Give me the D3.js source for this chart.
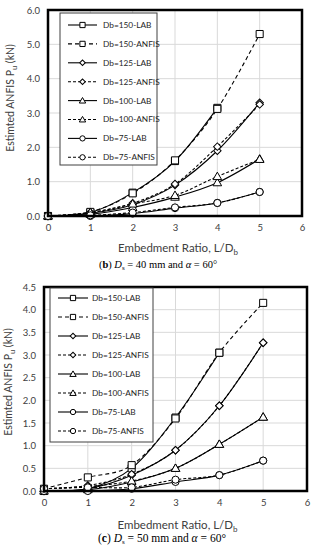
<!DOCTYPE html>
<html><head><meta charset="utf-8">
<script src="https://cdn.jsdelivr.net/npm/d3@7"></script>
<style>body{margin:0;background:#fff}svg{display:block}</style>
</head><body><svg id="c" width="317" height="550"></svg>
<script>
// ---- data ----
const xValues = [0, 1, 2, 3, 4, 5];
const seriesNames = ["Db=150-LAB","Db=150-ANFIS","Db=125-LAB","Db=125-ANFIS","Db=100-LAB","Db=100-ANFIS","Db=75-LAB","Db=75-ANFIS"];
// chart (b)
const b150LAB   = [0, 0.10, 0.68, 1.60, 3.15];
const b150ANFIS = [0, 0.12, 0.66, 1.62, 3.12, 5.30];
const b125LAB   = [0, 0.08, 0.33, 0.90, 1.90, 3.30];
const b125ANFIS = [0, 0.10, 0.37, 0.93, 2.02, 3.25];
const b100LAB   = [0, 0.05, 0.25, 0.55, 0.97, 1.66];
const b100ANFIS = [0, 0.10, 0.35, 0.60, 1.15, 1.65];
const b75LAB    = [0, 0.00, 0.07, 0.23, 0.38, 0.70];
const b75ANFIS  = [0, 0.02, 0.10, 0.25, 0.38, 0.70];
// chart (c)
const c150LAB   = [0, 0.05, 0.50, 1.62, 3.05];
const c150ANFIS = [0.05, 0.30, 0.57, 1.60, 3.05, 4.15];
const c125LAB   = [0, 0.05, 0.35, 0.90, 1.88, 3.27];
const c125ANFIS = [0.05, 0.12, 0.37, 0.90, 1.88, 3.27];
const c100LAB   = [0, 0.03, 0.20, 0.50, 1.03, 1.63];
const c100ANFIS = [0.05, 0.10, 0.22, 0.50, 1.03, 1.63];
const c75LAB    = [0, 0.00, 0.05, 0.20, 0.35, 0.67];
const c75ANFIS  = [0.05, 0.08, 0.08, 0.25, 0.35, 0.67];
const xTicks = [0,1,2,3,4,5,6];
const yTicksB = [0,1,2,3,4,5,6];
const yTicksC = [0,0.5,1,1.5,2,2.5,3,3.5,4,4.5];

const markerOf = ["square","square","diamond","diamond","triangle","triangle","circle","circle"];
const dashOf = [null,"4,3",null,"3,2",null,"3,2",null,"3,2"];

const svg = d3.select("#c");
const FONT = "Lato, 'Open Sans', sans-serif";
const textCol = "#404040";

function markerPath(kind, s){
  if(kind==="square") return d3.symbol(d3.symbolSquare, 50*s)();
  if(kind==="diamond") return d3.symbol(d3.symbolSquare, 28*s)();
  if(kind==="triangle") return d3.symbol(d3.symbolTriangle, 32*s)();
  return d3.symbol(d3.symbolCircle, 40*s)();
}
function drawMarker(g, kind, x, y, s=1){
  const p = g.append("path").attr("d", markerPath(kind, s))
    .attr("fill","#fff").attr("stroke","#000").attr("stroke-width",1);
  if(kind==="diamond") p.attr("transform",`translate(${x},${y}) rotate(45)`);
  else if(kind==="triangle") p.attr("transform",`translate(${x},${y+0.6})`);
  else p.attr("transform",`translate(${x},${y})`);
}

function drawChart(o){
  const g = svg.append("g");
  const x = d3.scaleLinear().domain([0,6]).range([o.x0,o.x1]);
  const y = d3.scaleLinear().domain([0,o.ymax]).range([o.y0,o.y1]);
  // grid
  g.append("g").selectAll("line.h").data(o.yTicks).join("line")
    .attr("x1",o.x0).attr("x2",o.x1).attr("y1",d=>y(d)).attr("y2",d=>y(d))
    .attr("stroke","#d9d9d9").attr("stroke-width",1);
  g.append("g").selectAll("line.v").data(xTicks).join("line")
    .attr("x1",d=>x(d)).attr("x2",d=>x(d)).attr("y1",o.y0).attr("y2",o.y1)
    .attr("stroke","#d9d9d9").attr("stroke-width",1);
  // axes (labels only)
  const ya = g.append("g").attr("transform",`translate(${o.x0},0)`)
    .call(d3.axisLeft(y).tickValues(o.yTicks).tickFormat(d3.format(".1f")).tickSize(0).tickPadding(8));
  ya.select(".domain").remove();
  ya.selectAll("text").attr("font-family",FONT).attr("font-size",9.5).attr("fill",textCol);
  const xa = g.append("g").attr("transform",`translate(0,${o.y0})`)
    .call(d3.axisBottom(x).tickValues(xTicks).tickFormat(d3.format("d")).tickSize(0).tickPadding(8));
  xa.select(".domain").remove();
  xa.selectAll("text").attr("font-family",FONT).attr("font-size",9.5).attr("fill",textCol);
  // series
  const line = d3.line().x((d,i)=>x(xValues[i])).y(d=>y(d)).curve(d3.curveCardinal.tension(0));
  o.series.forEach((s,k)=>{
    g.append("path").attr("d",line(s)).attr("fill","none").attr("stroke","#000")
      .attr("stroke-width",1.1).attr("stroke-dasharray",dashOf[k]);
  });
  o.series.forEach((s,k)=>{
    s.forEach((v,i)=>drawMarker(g, markerOf[k], x(xValues[i]), y(v)));
  });
  // frame
  g.append("rect").attr("x",o.x0).attr("y",o.y1).attr("width",o.x1-o.x0).attr("height",o.y0-o.y1)
    .attr("fill","none").attr("stroke","#000").attr("stroke-width",2.5);
  // legend
  const L = o.legend;
  g.append("rect").attr("x",L.x).attr("y",L.y).attr("width",L.w).attr("height",L.h)
    .attr("fill","#fff").attr("stroke","#404040").attr("stroke-width",1);
  seriesNames.forEach((n,k)=>{
    const yy = L.y + L.first + k*L.step;
    g.append("line").attr("x1",L.lx0).attr("x2",L.lx1).attr("y1",yy).attr("y2",yy)
      .attr("stroke","#000").attr("stroke-width",1.1).attr("stroke-dasharray",dashOf[k]);
    drawMarker(g, markerOf[k], (L.lx0+L.lx1)/2, yy, 0.55);
    g.append("text").attr("x",L.tx).attr("y",yy).attr("dy","0.35em")
      .attr("font-family",FONT).attr("font-size",8.3).attr("fill","#262626").text(n);
  });
  // axis titles
  const xt = g.append("text").attr("x",(o.x0+o.x1)/2+o.xtShift).attr("y",o.xtY)
    .attr("text-anchor","middle").attr("font-family",FONT).attr("font-size",11.5).attr("fill",textCol);
  xt.append("tspan").text("Embedment Ratio, L/D");
  xt.append("tspan").attr("font-size",8).attr("dy",3).text("b");
  const yt = g.append("text").attr("transform",`translate(${o.ytX},${o.ytY}) rotate(-90)`)
    .attr("text-anchor","middle").attr("font-family",FONT).attr("font-size",10.5).attr("fill",textCol);
  yt.append("tspan").text("Estimted ANFIS  P");
  yt.append("tspan").attr("font-size",7.5).attr("dy",3).text("u");
  yt.append("tspan").attr("dy",-3).text(" (kN)");
  // caption
  const cap = g.append("text").attr("x",o.capX).attr("y",o.capY).attr("text-anchor","middle")
    .attr("font-family","'Liberation Serif', serif").attr("font-size",o.capSize).attr("fill","#000");
  cap.append("tspan").text("(");
  cap.append("tspan").attr("font-weight","bold").text(o.letter);
  cap.append("tspan").text(") ");
  cap.append("tspan").attr("font-style","italic").text("D");
  cap.append("tspan").attr("font-size",7).attr("dy",2).text("s");
  cap.append("tspan").attr("dy",-2).text(" = " + o.ds + " mm and ");
  cap.append("tspan").attr("font-style","italic").text("α");
  cap.append("tspan").text(" = 60°");
}

drawChart({x0:48,x1:302,y0:216,y1:10,ymax:6,yTicks:yTicksB,
  series:[b150LAB,b150ANFIS,b125LAB,b125ANFIS,b100LAB,b100ANFIS,b75LAB,b75ANFIS],
  legend:{x:60,y:13,w:97,h:152,first:12,step:18.9,lx0:68,lx1:97,tx:103},
  xtY:252,xtShift:3,ytX:14,ytY:98,capX:158,capY:268,capSize:10.5,letter:"b",ds:"40"});
drawChart({x0:44,x1:307,y0:491,y1:287,ymax:4.5,yTicks:yTicksC,
  series:[c150LAB,c150ANFIS,c125LAB,c125ANFIS,c100LAB,c100ANFIS,c75LAB,c75ANFIS],
  legend:{x:50,y:288,w:103,h:154,first:10,step:19,lx0:58,lx1:88,tx:92},
  xtY:529,xtShift:2,ytX:12,ytY:382,capX:162,capY:542,capSize:11.5,letter:"c",ds:"50"});
</script></body></html>
